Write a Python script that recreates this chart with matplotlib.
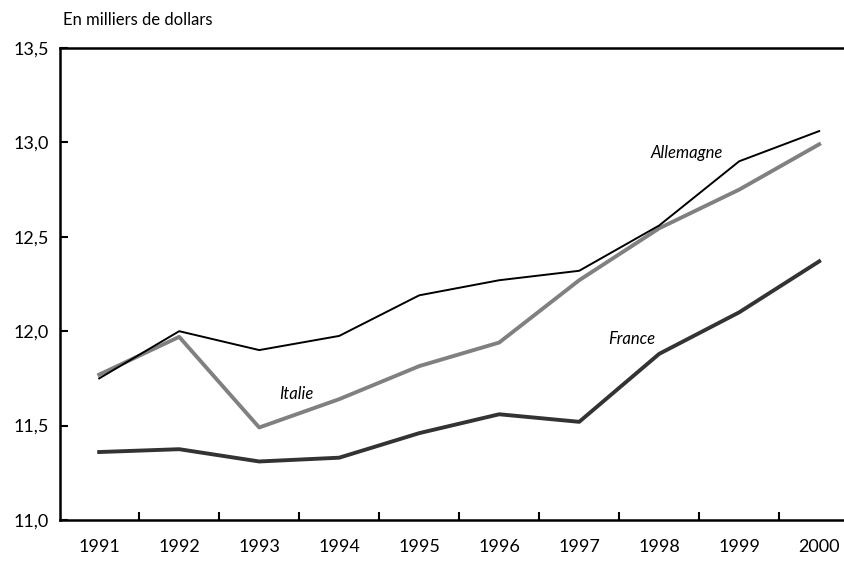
import numpy as np
import matplotlib
matplotlib.use("Agg")
import matplotlib.pyplot as plt

plt.rcParams['font.family'] = ['Lato', 'DejaVu Sans']

years = ['1991', '1992', '1993', '1994', '1995', '1996', '1997', '1998', '1999', '2000']
allemagne = [11.75, 12.00, 11.90, 11.975, 12.19, 12.27, 12.32, 12.56, 12.90, 13.06]
italie = [11.77, 11.97, 11.49, 11.64, 11.815, 11.94, 12.27, 12.545, 12.75, 12.99]
france = [11.36, 11.375, 11.31, 11.33, 11.46, 11.56, 11.52, 11.88, 12.10, 12.37]

fig = plt.figure(figsize=(8.45, 5.65), dpi=100)
# axes run past the right edge of the figure, as in the original
ax = fig.add_axes([60 / 845, 1 - 520 / 565, (880 - 60) / 845, (520 - 48) / 565])

x = np.arange(len(years))
ax.plot(x, allemagne, color='black', lw=1.4, zorder=3)
ax.plot(x, italie, color='#808080', lw=2.8, zorder=2)
ax.plot(x, france, color='#333333', lw=2.8, zorder=2)

ax.set_xlim(-0.49, 9.76)
ax.set_ylim(11.0, 13.5)

# x ticks between years, labels centred on years
ax.set_xticks(x[:-1] + 0.5)
ax.set_xticklabels([])
ax.set_xticks(x, minor=True)
ax.set_xticklabels(years, minor=True)
ax.tick_params(axis='x', which='major', direction='in', length=6, width=1.5)
ax.tick_params(axis='x', which='minor', length=0, pad=14, labelsize=13)

ax.set_yticks([11.0, 11.5, 12.0, 12.5, 13.0, 13.5])
ax.set_yticklabels(['11,0', '11,5', '12,0', '12,5', '13,0', '13,5'])
ax.tick_params(axis='y', direction='in', length=6, width=1.5, pad=8, labelsize=13)

for side in ['left', 'bottom', 'top']:
    ax.spines[side].set_linewidth(1.8)
ax.spines['right'].set_visible(False)

ax.text(7.35, 12.945, 'Allemagne', style='italic', fontsize=12, ha='center', va='center')
ax.text(2.46, 11.667, 'Italie', style='italic', fontsize=12, ha='center', va='center')
ax.text(6.66, 11.96, 'France', style='italic', fontsize=12, ha='center', va='center')

fig.text(63 / 845, 1 - 20 / 565, 'En milliers de dollars', fontsize=12, ha='left', va='center')

fig.savefig('out.png', dpi=100)
